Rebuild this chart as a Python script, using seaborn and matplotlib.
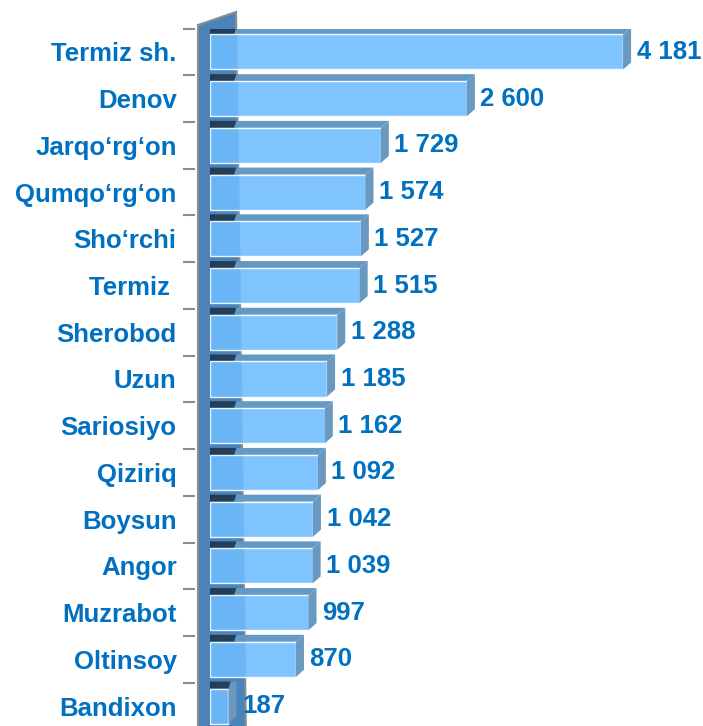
import numpy as np
import pandas as pd
import matplotlib.pyplot as plt
import seaborn as sns
from matplotlib.patches import Polygon

# District values
districts = ['Termiz sh.', 'Denov', 'Jarqo‘rg‘on', 'Qumqo‘rg‘on', 'Sho‘rchi', 'Termiz ',
             'Sherobod', 'Uzun', 'Sariosiyo', 'Qiziriq', 'Boysun', 'Angor',
             'Muzrabot', 'Oltinsoy', 'Bandixon']
values = [4181, 2600, 1729, 1574, 1527, 1515, 1288, 1185, 1162, 1092, 1042, 1039, 997, 870, 187]

df = pd.DataFrame({'district': districts, 'value': values})

sns.set_theme(style="white")
plt.rcParams['font.family'] = ['Liberation Sans', 'DejaVu Sans']

text_blue = '#0070C0'
front_col = '#6EBCFF'
top_col = '#6499C4'
side_col = '#6A98BE'
wall_col = '#4A84BA'
shadow_col = '#1B2F45'

W, H = 703, 726
fig = plt.figure(figsize=(W / 100, H / 100), dpi=100)
ax = fig.add_axes([210 / W, -3.4 / H, 493 / W, 700.8 / H])

sns.barplot(data=df, x='value', y='district', orient='h', color=front_col,
            saturation=1, width=0.75, alpha=0.88, ax=ax, zorder=3)
ax.set_xlim(0, 4990)
ax.set_ylim(len(districts) - 0.5, -0.5)

# helper: image pixel -> data coords
inv = ax.transData.inverted()
def px(x, y):
    return inv.transform((x, H - y))

# back wall
wall = Polygon([px(198, 740), px(198, 25), px(236, 12), px(246, 740)],
               closed=True, facecolor=wall_col, edgecolor='#8c8c8c', lw=1.5,
               zorder=1, clip_on=False)
ax.add_patch(wall)

# depth of the 3D bars in data units
o = px(0, 0)
d = px(8, -7)
dx, dy = d[0] - o[0], d[1] - o[1]
shade_w = px(24, 0)[0] - o[0]

for p, v in zip(ax.patches, values):
    x0, y0, w, h = p.get_x(), p.get_y(), p.get_width(), p.get_height()
    yt = y0
    yb = y0 + h
    top = Polygon([(x0, yt), (x0 + w, yt), (x0 + w + dx, yt + dy), (x0 + dx, yt + dy)],
                  closed=True, facecolor=top_col, edgecolor='none', zorder=2)
    sw = min(shade_w, w)
    shade = Polygon([(x0, yt), (x0 + sw, yt), (x0 + sw + dx * 0.3, yt + dy), (x0, yt + dy)],
                    closed=True, facecolor=shadow_col, edgecolor='none', alpha=0.85, zorder=2.5)
    side = Polygon([(x0 + w, yt), (x0 + w, yb), (x0 + w + dx, yb + dy), (x0 + w + dx, yt + dy)],
                   closed=True, facecolor=side_col, edgecolor='none', zorder=3)
    ax.add_patch(top)
    ax.add_patch(shade)
    ax.add_patch(side)
    ax.annotate(f"{v:,}".replace(",", " "), xy=(x0 + w + dx, y0 + h / 2),
                xytext=(4, 0), textcoords='offset points', va='center', ha='left',
                fontsize=18.5, fontweight='bold', color=text_blue, zorder=5)

# axis styling
for s in ax.spines.values():
    s.set_visible(False)
ax.set_xticks([])
ax.set_xlabel('')
ax.set_ylabel('')
ax.spines['left'].set_position(('outward', 11))
ax.set_yticks(np.arange(len(districts)))
ax.set_yticklabels(districts, fontweight='bold', fontsize=18.5, color=text_blue)
ax.tick_params(axis='y', which='major', length=0, pad=13)
ax.set_yticks(np.arange(len(districts)) - 0.5, minor=True)
ax.tick_params(axis='y', which='minor', length=9, width=1.5, color='#8c8c8c', left=True)

fig.savefig('out.png', dpi=100)
